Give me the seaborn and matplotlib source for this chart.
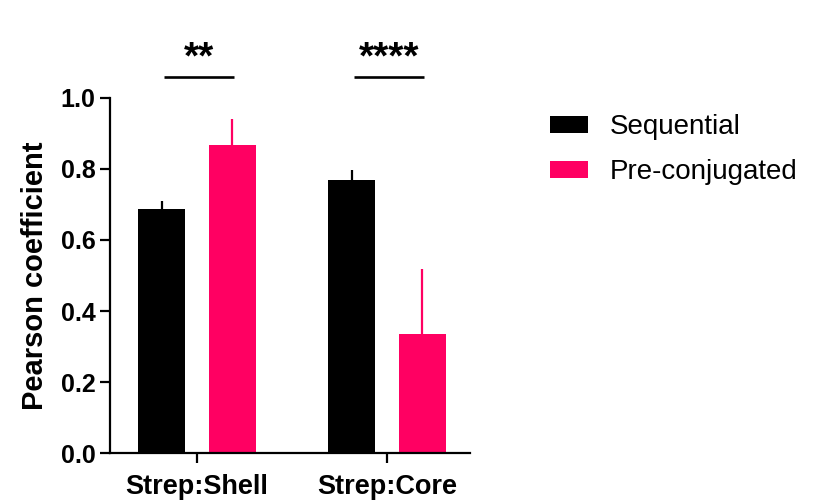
import matplotlib
matplotlib.use("Agg")
import matplotlib.pyplot as plt
from matplotlib.patches import Patch
import seaborn as sns
import pandas as pd

categories = ["Strep:Shell", "Strep:Core"]
methods = ["Sequential", "Pre-conjugated"]
means_sequential = [0.687, 0.769]
means_preconj = [0.868, 0.335]
err_sequential = [0.024, 0.028]
err_preconj = [0.072, 0.182]
significance = ["**", "****"]
yticks = [0.0, 0.2, 0.4, 0.6, 0.8, 1.0]

palette = {"Sequential": "#000000", "Pre-conjugated": "#FF0062"}

df = pd.DataFrame({
    "group": categories * 2,
    "method": [methods[0]] * 2 + [methods[1]] * 2,
    "value": means_sequential + means_preconj,
    "err": err_sequential + err_preconj,
})

sns.set_style("white")
plt.rcParams["font.family"] = ["Liberation Sans", "DejaVu Sans"]
for key in ["text.color", "axes.labelcolor", "xtick.color", "ytick.color"]:
    plt.rcParams[key] = "black"

fig = plt.figure(figsize=(8.26, 5.01), dpi=100)
ax = fig.add_axes([0.1332, 0.0958, 0.4358, 0.7086])

sns.barplot(data=df, x="group", y="value", hue="method", order=categories,
            hue_order=methods, palette=palette, width=0.742, gap=0.334,
            errorbar=None, saturation=1, edgecolor="none", legend=False, ax=ax)

# upward-only error bars at each bar's centre
bars = [p for p in ax.patches if p.get_height() > 0]
for bar in bars:
    xc = bar.get_x() + bar.get_width() / 2
    h = bar.get_height()
    row = df[(df["value"] - h).abs() < 1e-9].iloc[0]
    ax.errorbar(xc, h, yerr=[[0], [row["err"]]], fmt="none",
                ecolor=bar.get_facecolor(), elinewidth=1.6, capsize=0, zorder=3)

# significance brackets
centers = sorted(b.get_x() + b.get_width() / 2 for b in bars)
for i, label in enumerate(significance):
    x0, x1 = centers[2 * i], centers[2 * i + 1]
    ax.plot([x0 + 0.01, x1 + 0.01], [1.059, 1.059], color="black", lw=1.9,
            clip_on=False, solid_capstyle="butt")
    ax.text((x0 + x1) / 2 + 0.01, 1.11, label, ha="center", va="center",
            fontsize=28, fontweight="bold", clip_on=False)

ax.set_xlim(-0.458, 1.437)
ax.set_ylim(0, 1.0)
ax.set_yticks(yticks)
ax.set_yticklabels([f"{t:.1f}" for t in yticks], fontsize=18, fontweight="bold")
ax.set_xticks([0, 1])
ax.set_xticklabels(categories, fontsize=19.5, fontweight="bold")
ax.set_xlabel("")
ax.set_ylabel("Pearson coefficient", fontsize=21, fontweight="bold", labelpad=8)

for side in ["top", "right"]:
    ax.spines[side].set_visible(False)
for side in ["left", "bottom"]:
    ax.spines[side].set_linewidth(1.6)
    ax.spines[side].set_color("black")
ax.tick_params(axis="both", direction="out", length=7, width=1.6, colors="black",
               left=True, bottom=True)
ax.tick_params(axis="x", pad=8)

handles = [Patch(facecolor=palette[m], edgecolor="none", label=m) for m in methods]
fig.legend(handles=handles, loc="upper left", bbox_to_anchor=(0.635, 0.822),
           frameon=False, fontsize=20, handlelength=1.37, handleheight=0.54,
           handletextpad=0.8, labelspacing=0.68)

fig.savefig("out.png", dpi=100, facecolor="white")
